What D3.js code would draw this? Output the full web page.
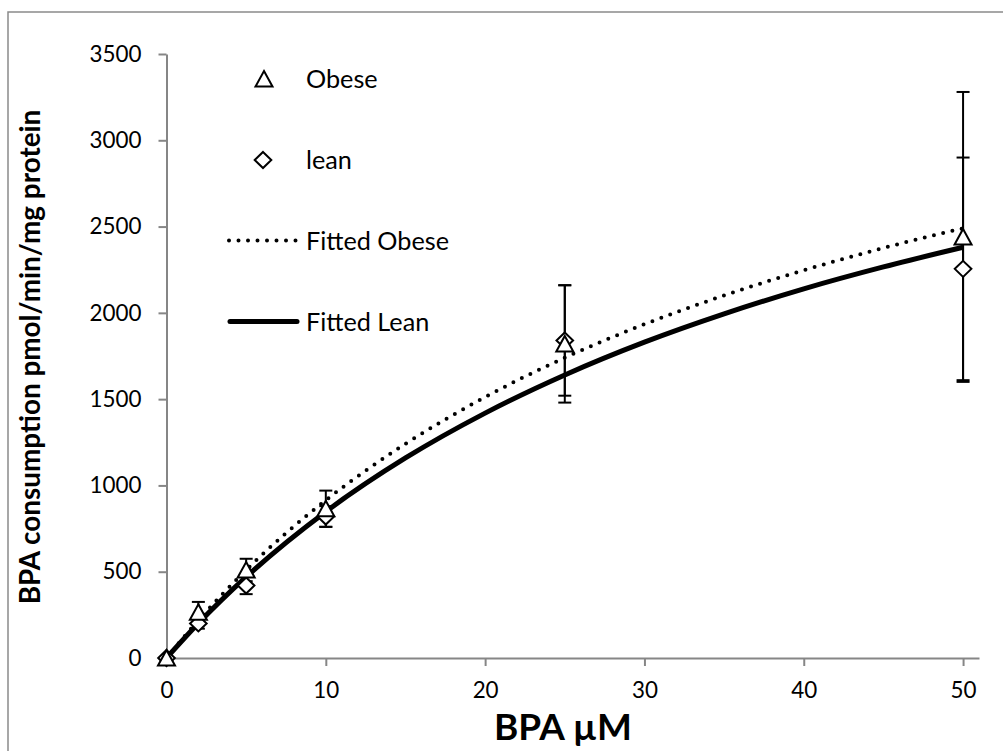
<!DOCTYPE html>
<html><head><meta charset="utf-8">
<script src="https://cdn.jsdelivr.net/npm/d3@7"></script>
<style>
html,body{margin:0;padding:0;background:#fff;}
svg{display:block;font-family:Lato,"Open Sans",sans-serif;}
</style></head>
<body>
<svg id="chart" width="1003" height="751"></svg>
<script>
// ---- data ----
const xTicks = [0, 10, 20, 30, 40, 50];
const yTicks = [0, 500, 1000, 1500, 2000, 2500, 3000, 3500];
const conc = [0, 2, 5, 10, 25, 50];
const obeseMean = [0, 265, 510, 865, 1820, 2440];
const obeseErr  = [0, 60, 65, 105, 340, 840];
const leanMean  = [0, 200, 420, 820, 1840, 2255];
const leanErr   = [0, 30, 50, 60, 320, 645];
const fitX      = [0, 2, 5, 10, 15, 20, 25, 30, 35, 40, 45, 50];
const fitObese  = [0, 218, 510, 914, 1241, 1512, 1740, 1934, 2101, 2247, 2376, 2490];
const fitLean   = [0, 201, 470, 848, 1159, 1419, 1640, 1830, 1994, 2139, 2266, 2380];
const legendLabels = ["Obese", "lean", "Fitted Obese", "Fitted Lean"];
const xTitle = "BPA \u00b5M";
const yTitle = "BPA consumption pmol/min/mg protein";

const svg = d3.select("#chart");
const axisColor = "#868686";

// outer chart border
svg.append("rect").attr("x", 8).attr("y", 12).attr("width", 1020).attr("height", 780)
  .attr("fill", "none").attr("stroke", "#8a8a8a").attr("stroke-width", 1.5);

const x = d3.scaleLinear().domain([0, 51]).range([166.5, 979]);
const y = d3.scaleLinear().domain([0, 3500]).range([658, 54]);

function fitFont(sel, target) {
  const base = 20;
  sel.attr("font-size", base);
  const w = sel.node().getComputedTextLength();
  return base * target / w;
}

// axes
const gx = svg.append("g").attr("transform", `translate(0,${y(0)})`)
  .call(d3.axisBottom(x).tickValues(xTicks).tickSize(8).tickSizeOuter(0).tickPadding(16).tickFormat(d3.format("d")));
const gy = svg.append("g").attr("transform", `translate(${x(0)},0)`)
  .call(d3.axisLeft(y).tickValues(yTicks).tickSize(8).tickSizeOuter(0).tickPadding(17).tickFormat(d3.format("d")));
[gx, gy].forEach(g => {
  g.select(".domain").attr("stroke", axisColor).attr("stroke-width", 2);
  g.selectAll(".tick line").attr("stroke", axisColor).attr("stroke-width", 2);
  g.selectAll(".tick text").attr("fill", "#000").attr("font-family", "Lato");
});
const probe = svg.append("text").attr("font-family", "Lato").text("1000");
const tickFs = fitFont(probe, 52);
probe.remove();
gx.selectAll(".tick text").attr("font-size", tickFs);
gy.selectAll(".tick text").attr("font-size", tickFs);

// titles
const xt = svg.append("text").attr("font-weight", "bold").attr("text-anchor", "middle")
  .attr("x", 563).attr("y", 740).text(xTitle);
xt.attr("font-size", fitFont(xt, 138));
const yt = svg.append("text").attr("font-weight", "bold").attr("text-anchor", "middle")
  .attr("transform", "translate(40,357) rotate(-90)").text(yTitle);
yt.attr("font-size", fitFont(yt, 495));

// error bars
function errBars(means, errs) {
  const g = svg.append("g").attr("stroke", "#000").attr("stroke-width", 2);
  conc.forEach((c, i) => {
    if (!errs[i]) return;
    const cx = x(c), y1 = y(means[i] - errs[i]), y2 = y(means[i] + errs[i]);
    g.append("line").attr("x1", cx).attr("x2", cx).attr("y1", y1).attr("y2", y2);
    g.append("line").attr("x1", cx - 6.5).attr("x2", cx + 6.5).attr("y1", y1).attr("y2", y1);
    g.append("line").attr("x1", cx - 6.5).attr("x2", cx + 6.5).attr("y1", y2).attr("y2", y2);
  });
}
errBars(obeseMean, obeseErr);
errBars(leanMean, leanErr);

// fitted curves
const line = d3.line().x(d => x(d[0])).y(d => y(d[1])).curve(d3.curveMonotoneX);
svg.append("path").datum(fitX.map((v, i) => [v, fitLean[i]])).attr("d", line)
  .attr("fill", "none").attr("stroke", "#000").attr("stroke-width", 5);
svg.append("path").datum(fitX.map((v, i) => [v, fitObese[i]])).attr("d", line)
  .attr("fill", "none").attr("stroke", "#000").attr("stroke-width", 4)
  .attr("stroke-linecap", "round").attr("stroke-dasharray", "0,9.5");

// markers
const triPath = "M0,-8L8.5,7.5L-8.5,7.5Z";
const diaPath = "M0,-8L8.3,0L0,8L-8.3,0Z";
function markers(means, path) {
  svg.append("g").selectAll("path").data(conc).join("path")
    .attr("transform", (c, i) => `translate(${x(c)},${y(means[i])})`)
    .attr("d", path).attr("fill", "#fff").attr("stroke", "#000").attr("stroke-width", 2);
}
markers(leanMean, diaPath);
markers(obeseMean, triPath);

// legend
const lg = svg.append("g");
lg.append("path").attr("d", triPath).attr("transform", "translate(264,79)")
  .attr("fill", "#fff").attr("stroke", "#000").attr("stroke-width", 2);
lg.append("path").attr("d", diaPath).attr("transform", "translate(263,160)")
  .attr("fill", "#fff").attr("stroke", "#000").attr("stroke-width", 2);
lg.append("line").attr("x1", 229).attr("x2", 296).attr("y1", 240.5).attr("y2", 240.5)
  .attr("stroke", "#000").attr("stroke-width", 4).attr("stroke-linecap", "round").attr("stroke-dasharray", "0,9.5");
lg.append("line").attr("x1", 230).attr("x2", 297).attr("y1", 321.5).attr("y2", 321.5)
  .attr("stroke", "#000").attr("stroke-width", 5).attr("stroke-linecap", "round");
const ly = [79, 160, 240.5, 321.5];
const lt = lg.selectAll("text.lg").data(legendLabels).join("text").attr("class", "lg")
  .attr("x", 306).attr("y", (d, i) => ly[i]).attr("dy", "0.36em").text(d => d);
const legFs = fitFont(lt.filter((d, i) => i === 2), 143);
lt.attr("font-size", legFs);
</script>
</body></html>
